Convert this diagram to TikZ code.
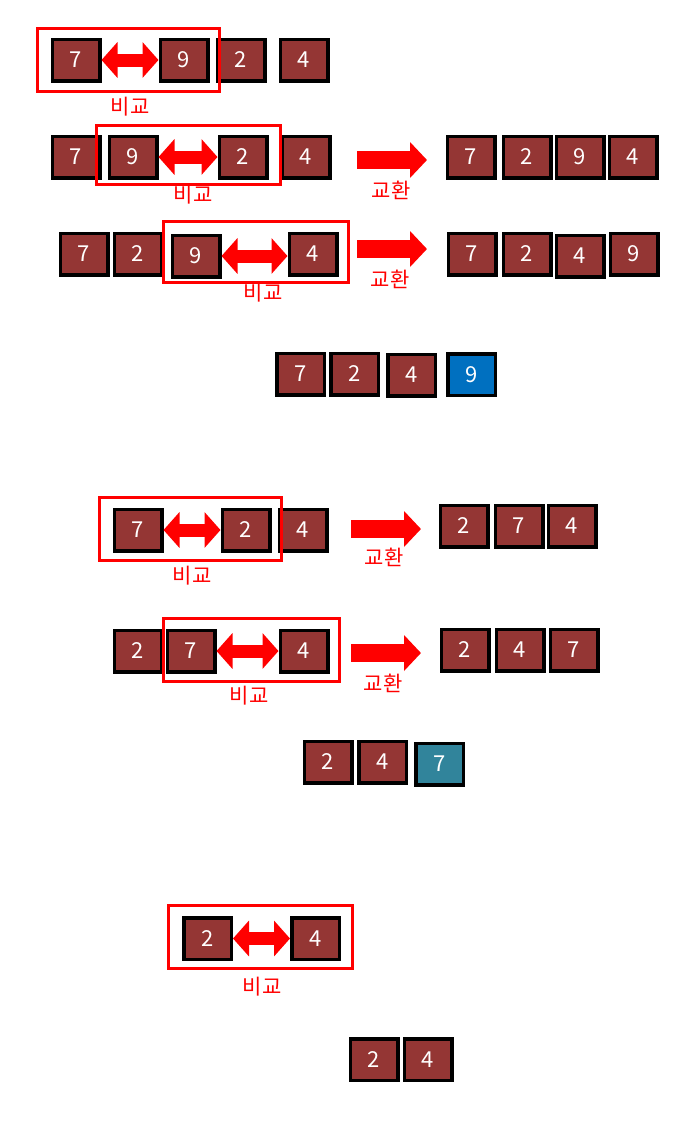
\documentclass[tikz,border=0pt]{standalone}
\usepackage{fontspec}
\setmainfont{Noto Sans CJK KR}
\usetikzlibrary{arrows.meta}
\definecolor{boxred}{HTML}{943634}
\definecolor{boxblue}{HTML}{0070C0}
\definecolor{boxteal}{HTML}{31849B}
\begin{document}
\begin{tikzpicture}[x=1pt, y=-1pt,
  cell/.style={draw=black, line width=3.5pt, fill=boxred, text=white, minimum width=47.5pt, minimum height=41.5pt, inner sep=0pt, font=\fontsize{22}{26}\selectfont},
  cmpbox/.style={draw=red, line width=3pt},
  cmp/.style={red, line width=13pt, {Triangle[length=16pt,width=35pt]}-{Triangle[length=16pt,width=35pt]}},
  swap/.style={red, line width=18pt, -{Triangle[length=17pt,width=35pt]}},
  lbl/.style={text=red, inner sep=0pt, font=\fontsize{21}{24}\selectfont}]

\useasboundingbox (0,0) rectangle (685,1141);

% first pass: 7 9 2 4
\node[cell] (a1) at (76,60) {7};
\node[cell] (a2) at (184,60) {9};
\node[cell] (a3) at (241,60) {2};
\node[cell] (a4) at (304,60) {4};
\draw[cmp] (a1.east) -- (a2.west);
\draw[cmpbox] (37,28) rectangle (219,91);
\node[lbl] (a5) at (130,107) {비교};

\node[cell] (b1) at (76,157) {7};
\node[cell] (b2) at (133,157) {9};
\node[cell] (b3) at (243,157) {2};
\node[cell] (b4) at (306,157) {4};
\draw[cmp] (b2.east) -- (b3.west);
\draw[cmpbox] (96,125) rectangle (280,184);
\node[lbl] (b5) at (193,195) {비교};
\coordinate (b6) at (357,160);
\coordinate (b7) at (427,160);
\draw[swap] (b6) -- (b7);
\node[lbl] (b8) at (391,190) {교환};
\node[cell] (b9) at (471,157) {7};
\node[cell] (b10) at (527,157) {2};
\node[cell] (b11) at (580,157) {9};
\node[cell] (b12) at (633,157) {4};

\node[cell] (c1) at (84,254) {7};
\node[cell] (c2) at (138,254) {2};
\node[cell] (c3) at (196,256) {9};
\node[cell] (c4) at (313,254) {4};
\draw[cmp] (c3.east) -- (c4.west |- c3.east);
\draw[cmpbox] (163,221) rectangle (348,282);
\node[lbl] (c5) at (263,293) {비교};
\coordinate (c6) at (357,249);
\coordinate (c7) at (427,249);
\draw[swap] (c6) -- (c7);
\node[lbl] (c8) at (390,279) {교환};
\node[cell] (c9) at (472,254) {7};
\node[cell] (c10) at (527,254) {2};
\node[cell] (c11) at (580,256) {4};
\node[cell] (c12) at (634,254) {9};

\node[cell] (d1) at (300.5,374) {7};
\node[cell] (d2) at (354.5,374) {2};
\node[cell] (d3) at (411.5,375) {4};
\node[cell, fill=boxblue] (d4) at (471.5,374.5) {9};

% second pass: 7 2 4
\node[cell] (e1) at (138,530) {7};
\node[cell] (e2) at (246,530) {2};
\node[cell] (e3) at (303,530) {4};
\draw[cmp] (e1.east) -- (e2.west);
\draw[cmpbox] (99,497) rectangle (281,560);
\node[lbl] (e4) at (192,576) {비교};
\coordinate (e5) at (351,529);
\coordinate (e6) at (421,529);
\draw[swap] (e5) -- (e6);
\node[lbl] (e7) at (384,557) {교환};
\node[cell] (e8) at (464,526) {2};
\node[cell] (e9) at (519,526) {7};
\node[cell] (e10) at (572,526) {4};

\node[cell] (f1) at (138,651) {2};
\node[cell] (f2) at (191,651) {7};
\node[cell] (f3) at (304,651) {4};
\draw[cmp] (f2.east) -- (f3.west);
\draw[cmpbox] (163,618) rectangle (339,681);
\node[lbl] (f4) at (249,696) {비교};
\coordinate (f5) at (351,653);
\coordinate (f6) at (421,653);
\draw[swap] (f5) -- (f6);
\node[lbl] (f7) at (383,683) {교환};
\node[cell] (f8) at (465,650) {2};
\node[cell] (f9) at (520,650) {4};
\node[cell] (f10) at (574,650) {7};

\node[cell] (g1) at (328,762) {2};
\node[cell] (g2) at (382.5,762) {4};
\node[cell, fill=boxteal] (g3) at (439.5,764) {7};

% third pass: 2 4
\node[cell] (h1) at (207.5,938.5) {2};
\node[cell] (h2) at (315.5,938.5) {4};
\draw[cmp] (h1.east) -- (h2.west);
\draw[cmpbox] (168,905) rectangle (352,968);
\node[lbl] (h3) at (262,987) {비교};

\node[cell] (i1) at (374,1059.5) {2};
\node[cell] (i2) at (428,1059.5) {4};

\end{tikzpicture}
\end{document}
